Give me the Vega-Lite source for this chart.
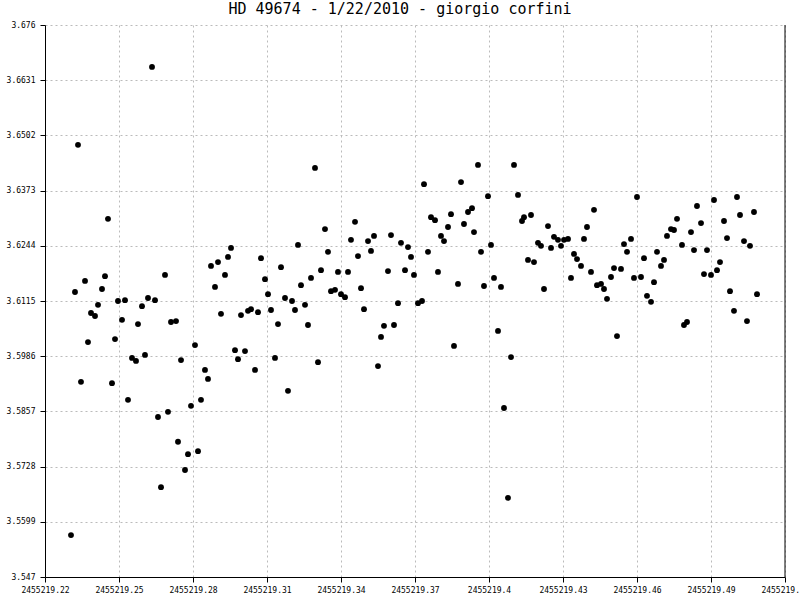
{
  "$schema": "https://vega.github.io/schema/vega-lite/v6.json",
  "width": 740,
  "height": 552,
  "autosize": {"type": "none"},
  "padding": {"left": 45, "top": 25, "right": 15, "bottom": 23},
  "background": "white",
  "title": {"text": "HD 49674 - 1/22/2010 - giorgio corfini", "font": "DejaVu Sans Mono", "fontSize": 15, "fontWeight": "normal", "color": "black", "offset": 4, "dx": -15, "anchor": "middle"},
  "config": {"view": {"stroke": null}},
  "data": {"values": [
    {"jd": 2455219.23054, "mag": 3.5568},
    {"jd": 2455219.23216, "mag": 3.6136},
    {"jd": 2455219.23338, "mag": 3.6480},
    {"jd": 2455219.23459, "mag": 3.5926},
    {"jd": 2455219.23622, "mag": 3.6162},
    {"jd": 2455219.23743, "mag": 3.6019},
    {"jd": 2455219.23865, "mag": 3.6087},
    {"jd": 2455219.24027, "mag": 3.6080},
    {"jd": 2455219.24149, "mag": 3.6106},
    {"jd": 2455219.24311, "mag": 3.6143},
    {"jd": 2455219.24432, "mag": 3.6173},
    {"jd": 2455219.24554, "mag": 3.6307},
    {"jd": 2455219.24716, "mag": 3.5923},
    {"jd": 2455219.24838, "mag": 3.6026},
    {"jd": 2455219.24959, "mag": 3.6115},
    {"jd": 2455219.25122, "mag": 3.6071},
    {"jd": 2455219.25243, "mag": 3.6117},
    {"jd": 2455219.25365, "mag": 3.5884},
    {"jd": 2455219.25527, "mag": 3.5982},
    {"jd": 2455219.25689, "mag": 3.5975},
    {"jd": 2455219.25770, "mag": 3.6061},
    {"jd": 2455219.25932, "mag": 3.6103},
    {"jd": 2455219.26054, "mag": 3.5989},
    {"jd": 2455219.26176, "mag": 3.6122},
    {"jd": 2455219.26338, "mag": 3.6662},
    {"jd": 2455219.26459, "mag": 3.6117},
    {"jd": 2455219.26581, "mag": 3.5844},
    {"jd": 2455219.26703, "mag": 3.5680},
    {"jd": 2455219.26865, "mag": 3.6176},
    {"jd": 2455219.26986, "mag": 3.5856},
    {"jd": 2455219.27108, "mag": 3.6066},
    {"jd": 2455219.27311, "mag": 3.6068},
    {"jd": 2455219.27392, "mag": 3.5786},
    {"jd": 2455219.27514, "mag": 3.5977},
    {"jd": 2455219.27676, "mag": 3.5720},
    {"jd": 2455219.27797, "mag": 3.5757},
    {"jd": 2455219.27919, "mag": 3.5870},
    {"jd": 2455219.28081, "mag": 3.6012},
    {"jd": 2455219.28203, "mag": 3.5764},
    {"jd": 2455219.28324, "mag": 3.5884},
    {"jd": 2455219.28486, "mag": 3.5954},
    {"jd": 2455219.28608, "mag": 3.5933},
    {"jd": 2455219.28730, "mag": 3.6197},
    {"jd": 2455219.28892, "mag": 3.6148},
    {"jd": 2455219.29014, "mag": 3.6206},
    {"jd": 2455219.29135, "mag": 3.6085},
    {"jd": 2455219.29297, "mag": 3.6176},
    {"jd": 2455219.29419, "mag": 3.6218},
    {"jd": 2455219.29541, "mag": 3.6239},
    {"jd": 2455219.29703, "mag": 3.6000},
    {"jd": 2455219.29824, "mag": 3.5979},
    {"jd": 2455219.29946, "mag": 3.6082},
    {"jd": 2455219.30108, "mag": 3.5998},
    {"jd": 2455219.30230, "mag": 3.6092},
    {"jd": 2455219.30351, "mag": 3.6096},
    {"jd": 2455219.30514, "mag": 3.5954},
    {"jd": 2455219.30635, "mag": 3.6089},
    {"jd": 2455219.30757, "mag": 3.6215},
    {"jd": 2455219.30919, "mag": 3.6166},
    {"jd": 2455219.31041, "mag": 3.6131},
    {"jd": 2455219.31162, "mag": 3.6094},
    {"jd": 2455219.31324, "mag": 3.5982},
    {"jd": 2455219.31446, "mag": 3.6061},
    {"jd": 2455219.31568, "mag": 3.6194},
    {"jd": 2455219.31730, "mag": 3.6122},
    {"jd": 2455219.31851, "mag": 3.5905},
    {"jd": 2455219.32014, "mag": 3.6115},
    {"jd": 2455219.32135, "mag": 3.6094},
    {"jd": 2455219.32257, "mag": 3.6246},
    {"jd": 2455219.32378, "mag": 3.6152},
    {"jd": 2455219.32541, "mag": 3.6106},
    {"jd": 2455219.32662, "mag": 3.6059},
    {"jd": 2455219.32784, "mag": 3.6169},
    {"jd": 2455219.32946, "mag": 3.6426},
    {"jd": 2455219.33068, "mag": 3.5972},
    {"jd": 2455219.33189, "mag": 3.6187},
    {"jd": 2455219.33351, "mag": 3.6283},
    {"jd": 2455219.33473, "mag": 3.6230},
    {"jd": 2455219.33595, "mag": 3.6138},
    {"jd": 2455219.33757, "mag": 3.6141},
    {"jd": 2455219.33878, "mag": 3.6183},
    {"jd": 2455219.34000, "mag": 3.6131},
    {"jd": 2455219.34162, "mag": 3.6124},
    {"jd": 2455219.34284, "mag": 3.6183},
    {"jd": 2455219.34405, "mag": 3.6258},
    {"jd": 2455219.34568, "mag": 3.6300},
    {"jd": 2455219.34689, "mag": 3.6220},
    {"jd": 2455219.34811, "mag": 3.6145},
    {"jd": 2455219.34932, "mag": 3.6096},
    {"jd": 2455219.35095, "mag": 3.6255},
    {"jd": 2455219.35216, "mag": 3.6232},
    {"jd": 2455219.35338, "mag": 3.6267},
    {"jd": 2455219.35500, "mag": 3.5963},
    {"jd": 2455219.35622, "mag": 3.6031},
    {"jd": 2455219.35743, "mag": 3.6057},
    {"jd": 2455219.35905, "mag": 3.6185},
    {"jd": 2455219.36027, "mag": 3.6269},
    {"jd": 2455219.36149, "mag": 3.6059},
    {"jd": 2455219.36311, "mag": 3.6110},
    {"jd": 2455219.36432, "mag": 3.6251},
    {"jd": 2455219.36595, "mag": 3.6187},
    {"jd": 2455219.36716, "mag": 3.6241},
    {"jd": 2455219.36838, "mag": 3.6218},
    {"jd": 2455219.36959, "mag": 3.6176},
    {"jd": 2455219.37122, "mag": 3.6110},
    {"jd": 2455219.37284, "mag": 3.6115},
    {"jd": 2455219.37365, "mag": 3.6388},
    {"jd": 2455219.37527, "mag": 3.6230},
    {"jd": 2455219.37649, "mag": 3.6311},
    {"jd": 2455219.37811, "mag": 3.6304},
    {"jd": 2455219.37932, "mag": 3.6183},
    {"jd": 2455219.38054, "mag": 3.6267},
    {"jd": 2455219.38176, "mag": 3.6255},
    {"jd": 2455219.38338, "mag": 3.6288},
    {"jd": 2455219.38459, "mag": 3.6318},
    {"jd": 2455219.38581, "mag": 3.6010},
    {"jd": 2455219.38743, "mag": 3.6155},
    {"jd": 2455219.38865, "mag": 3.6393},
    {"jd": 2455219.38986, "mag": 3.6295},
    {"jd": 2455219.39149, "mag": 3.6323},
    {"jd": 2455219.39311, "mag": 3.6332},
    {"jd": 2455219.39392, "mag": 3.6276},
    {"jd": 2455219.39554, "mag": 3.6433},
    {"jd": 2455219.39676, "mag": 3.6230},
    {"jd": 2455219.39797, "mag": 3.6150},
    {"jd": 2455219.39959, "mag": 3.6360},
    {"jd": 2455219.40081, "mag": 3.6246},
    {"jd": 2455219.40203, "mag": 3.6169},
    {"jd": 2455219.40365, "mag": 3.6045},
    {"jd": 2455219.40486, "mag": 3.6148},
    {"jd": 2455219.40608, "mag": 3.5865},
    {"jd": 2455219.40770, "mag": 3.5655},
    {"jd": 2455219.40892, "mag": 3.5984},
    {"jd": 2455219.41014, "mag": 3.6433},
    {"jd": 2455219.41176, "mag": 3.6363},
    {"jd": 2455219.41338, "mag": 3.6302},
    {"jd": 2455219.41419, "mag": 3.6311},
    {"jd": 2455219.41581, "mag": 3.6211},
    {"jd": 2455219.41703, "mag": 3.6316},
    {"jd": 2455219.41824, "mag": 3.6206},
    {"jd": 2455219.41986, "mag": 3.6251},
    {"jd": 2455219.42108, "mag": 3.6244},
    {"jd": 2455219.42230, "mag": 3.6143},
    {"jd": 2455219.42392, "mag": 3.6290},
    {"jd": 2455219.42514, "mag": 3.6239},
    {"jd": 2455219.42635, "mag": 3.6265},
    {"jd": 2455219.42797, "mag": 3.6258},
    {"jd": 2455219.42919, "mag": 3.6244},
    {"jd": 2455219.43041, "mag": 3.6258},
    {"jd": 2455219.43203, "mag": 3.6260},
    {"jd": 2455219.43324, "mag": 3.6169},
    {"jd": 2455219.43446, "mag": 3.6225},
    {"jd": 2455219.43568, "mag": 3.6213},
    {"jd": 2455219.43730, "mag": 3.6197},
    {"jd": 2455219.43851, "mag": 3.6260},
    {"jd": 2455219.43973, "mag": 3.6288},
    {"jd": 2455219.44135, "mag": 3.6183},
    {"jd": 2455219.44257, "mag": 3.6328},
    {"jd": 2455219.44378, "mag": 3.6152},
    {"jd": 2455219.44541, "mag": 3.6155},
    {"jd": 2455219.44662, "mag": 3.6143},
    {"jd": 2455219.44784, "mag": 3.6120},
    {"jd": 2455219.44946, "mag": 3.6171},
    {"jd": 2455219.45068, "mag": 3.6192},
    {"jd": 2455219.45189, "mag": 3.6033},
    {"jd": 2455219.45351, "mag": 3.6190},
    {"jd": 2455219.45473, "mag": 3.6248},
    {"jd": 2455219.45595, "mag": 3.6230},
    {"jd": 2455219.45757, "mag": 3.6260},
    {"jd": 2455219.45878, "mag": 3.6169},
    {"jd": 2455219.46000, "mag": 3.6358},
    {"jd": 2455219.46162, "mag": 3.6171},
    {"jd": 2455219.46284, "mag": 3.6215},
    {"jd": 2455219.46405, "mag": 3.6127},
    {"jd": 2455219.46568, "mag": 3.6113},
    {"jd": 2455219.46689, "mag": 3.6159},
    {"jd": 2455219.46811, "mag": 3.6230},
    {"jd": 2455219.46973, "mag": 3.6197},
    {"jd": 2455219.47095, "mag": 3.6211},
    {"jd": 2455219.47216, "mag": 3.6267},
    {"jd": 2455219.47378, "mag": 3.6283},
    {"jd": 2455219.47500, "mag": 3.6281},
    {"jd": 2455219.47622, "mag": 3.6307},
    {"jd": 2455219.47824, "mag": 3.6246},
    {"jd": 2455219.47905, "mag": 3.6059},
    {"jd": 2455219.48027, "mag": 3.6066},
    {"jd": 2455219.48189, "mag": 3.6276},
    {"jd": 2455219.48311, "mag": 3.6234},
    {"jd": 2455219.48432, "mag": 3.6337},
    {"jd": 2455219.48595, "mag": 3.6297},
    {"jd": 2455219.48716, "mag": 3.6178},
    {"jd": 2455219.48838, "mag": 3.6234},
    {"jd": 2455219.49000, "mag": 3.6176},
    {"jd": 2455219.49122, "mag": 3.6351},
    {"jd": 2455219.49243, "mag": 3.6187},
    {"jd": 2455219.49365, "mag": 3.6206},
    {"jd": 2455219.49527, "mag": 3.6302},
    {"jd": 2455219.49649, "mag": 3.6262},
    {"jd": 2455219.49770, "mag": 3.6138},
    {"jd": 2455219.49932, "mag": 3.6092},
    {"jd": 2455219.50054, "mag": 3.6358},
    {"jd": 2455219.50176, "mag": 3.6316},
    {"jd": 2455219.50338, "mag": 3.6255},
    {"jd": 2455219.50459, "mag": 3.6068},
    {"jd": 2455219.50581, "mag": 3.6244},
    {"jd": 2455219.50743, "mag": 3.6323},
    {"jd": 2455219.50865, "mag": 3.6131}
  ]},
  "layer": [
    {
      "mark": {"type": "circle", "size": 34, "color": "black", "opacity": 1},
      "encoding": {
        "x": {
          "field": "jd", "type": "quantitative",
          "scale": {"domain": [2455219.22, 2455219.52], "nice": false, "zero": false},
          "axis": {
            "title": null,
            "values": [2455219.22, 2455219.25, 2455219.28, 2455219.31, 2455219.34, 2455219.37, 2455219.40, 2455219.43, 2455219.46, 2455219.49, 2455219.52],
            "format": ".2~f",
            "labelFont": "DejaVu Sans Mono", "labelFontSize": 8, "labelColor": "black",
            "labelFlush": false, "labelOverlap": false, "labelPadding": 4,
            "tickColor": "black", "tickSize": 5, "domainColor": "black",
            "gridColor": "#bbbbbb", "gridDash": [2, 3]
          }
        },
        "y": {
          "field": "mag", "type": "quantitative",
          "scale": {"domain": [3.547, 3.676], "nice": false, "zero": false},
          "axis": {
            "title": null,
            "values": [3.547, 3.5599, 3.5728, 3.5857, 3.5986, 3.6115, 3.6244, 3.6373, 3.6502, 3.6631, 3.676],
            "format": ".4~f",
            "labelFont": "DejaVu Sans Mono", "labelFontSize": 8, "labelColor": "black",
            "labelFlush": false, "labelOverlap": false, "labelPadding": 5,
            "tickColor": "black", "tickSize": 5, "domainColor": "black",
            "gridColor": "#bbbbbb", "gridDash": [2, 3]
          }
        }
      }
    },
    {
      "data": {"values": [{"jd": 2455219.52}]},
      "mark": {"type": "rule", "color": "black", "strokeWidth": 1},
      "encoding": {"x": {"field": "jd", "type": "quantitative"}}
    }
  ]
}
